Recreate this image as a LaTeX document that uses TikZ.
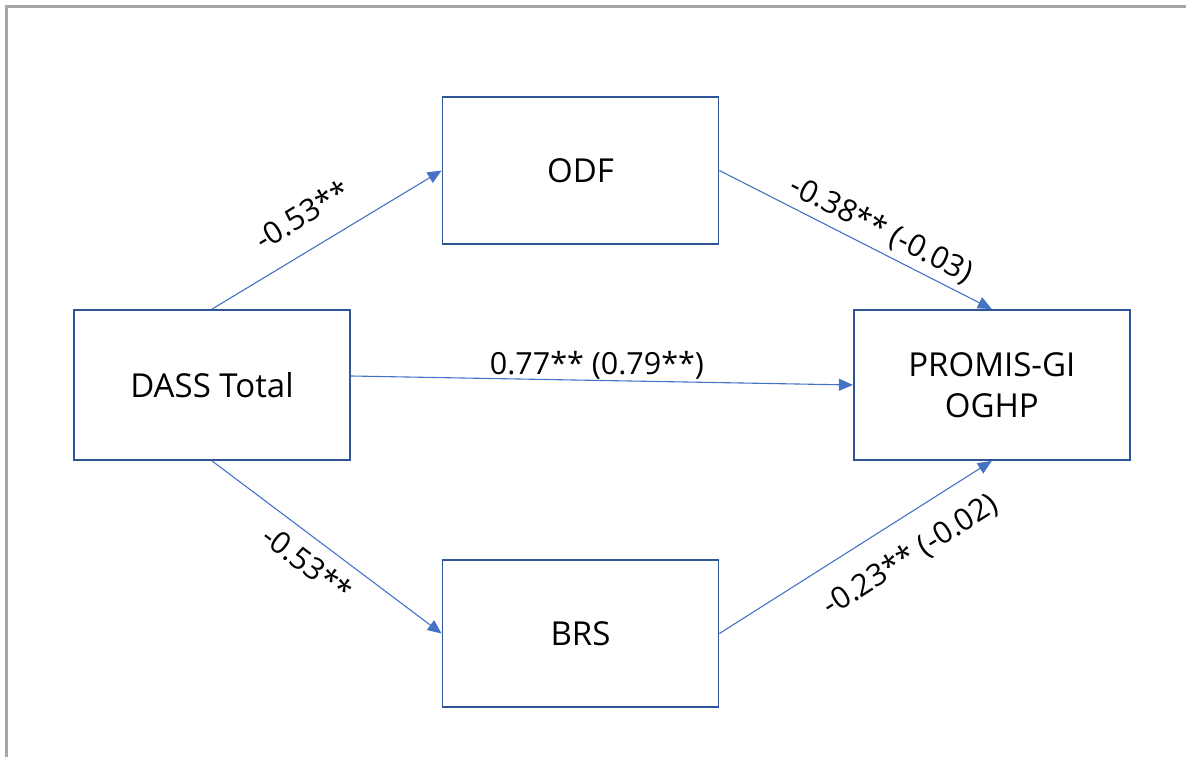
\documentclass[tikz,border=0pt]{standalone}
\usepackage{fontspec}
\setmainfont{Open Sans}
\usetikzlibrary{positioning}
\usetikzlibrary{arrows.meta}
\definecolor{boxblue}{RGB}{47,85,151}
\definecolor{pathblue}{RGB}{68,114,196}
\definecolor{framegray}{RGB}{166,166,166}
\tikzset{
var_box/.style={rectangle, draw=boxblue, line width=1.8pt, text=black, minimum width=276pt, minimum height=150pt, align=center, font=\fontsize{33}{41}\selectfont},
path_arrow/.style={-{Triangle[length=14pt,width=12pt]}, draw=pathblue, line width=1.1pt},
coef/.style={font=\fontsize{30.5}{35}\selectfont, text=black, inner sep=0pt}
}

\begin{document}
\begin{tikzpicture}[x=1pt,y=-1pt]
    \useasboundingbox (0,0) rectangle (1186,757);
    % page frame
    \draw[framegray, line width=3pt] (5,6.5) -- (1186,6.5);
    \draw[framegray, line width=3pt] (6.5,5) -- (6.5,757);

    \node[var_box] (dass) at (212,385) {DASS Total};
    \node[var_box] (promis) [right=502pt of dass] {PROMIS-GI\\OGHP};
    \node[var_box, minimum height=147pt] (odf) at (580.5,170.5) {ODF};
    \node[var_box, minimum height=147pt] (brs) at (580.5,633.5) {BRS};

    \draw[path_arrow] (dass.north) -- (odf.west) node[coef, sloped, pos=0.47, above=22pt] {-0.53**};
    \draw[path_arrow] (odf.east) -- (promis.north) node[coef, sloped, pos=0.56, above=6pt] {-0.38** (-0.03)};
    \draw[path_arrow] ([yshift=9pt]dass.east) -- (promis.west) node[coef, pos=0.49, above=1pt] {0.77** (0.79**)};
    \draw[path_arrow] (dass.south) -- (brs.west) node[coef, sloped, pos=0.48, below=12pt] {-0.53**};
    \draw[path_arrow] (brs.east) -- (promis.south) node[coef, sloped, pos=0.63, below=22pt] {-0.23** (-0.02)};
\end{tikzpicture}
\end{document}
